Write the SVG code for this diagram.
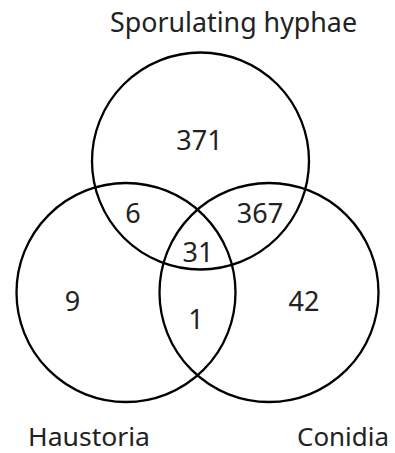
<svg xmlns="http://www.w3.org/2000/svg" width="395" height="453" viewBox="0 0 395 453">
<style>
.c{fill:none;stroke:#000;stroke-width:2.3}
.t{font-family:"Noto Sans","Open Sans",sans-serif;font-size:27px;fill:#222}
.b{font-family:"Noto Sans","Open Sans",sans-serif;font-size:26px;fill:#222}
.n{font-family:"Noto Sans","Open Sans",sans-serif;font-size:27px;fill:#222;text-anchor:middle}
</style>
<rect width="395" height="453" fill="#fff"/>
<g id="sporulating">
<circle class="c" cx="200.5" cy="161" r="108.5"/>
<text class="t" x="110" y="32" textLength="247" lengthAdjust="spacingAndGlyphs">Sporulating hyphae</text>
</g>
<g id="haustoria">
<circle class="c" cx="126" cy="292.5" r="109.5"/>
<text class="b" x="28" y="446" textLength="122" lengthAdjust="spacingAndGlyphs">Haustoria</text>
</g>
<g id="conidia">
<circle class="c" cx="269" cy="292.5" r="109.5"/>
<text class="b" x="297" y="446" textLength="92" lengthAdjust="spacingAndGlyphs">Conidia</text>
</g>
<g id="counts">
<text class="n" x="199.5" y="150">371</text>
<text class="n" x="133" y="223">6</text>
<text class="n" x="260" y="223">367</text>
<text class="n" x="198" y="262">31</text>
<text class="n" x="72.5" y="311">9</text>
<text class="n" x="196" y="329">1</text>
<text class="n" x="304" y="311">42</text>
</g>
</svg>
